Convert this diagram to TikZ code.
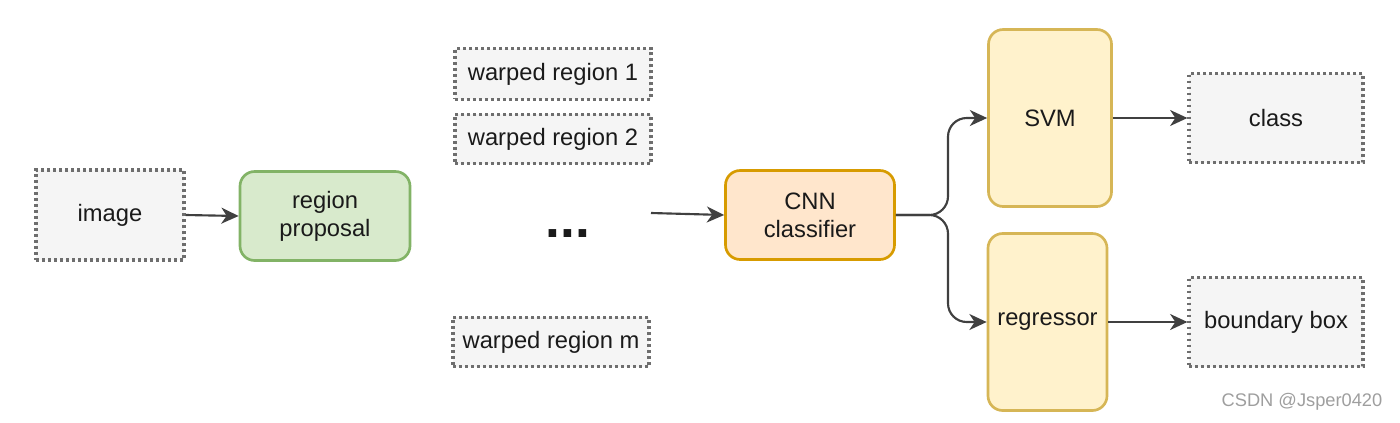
\documentclass[tikz,border=0pt]{standalone}
\usepackage{fontspec}
\setmainfont{Liberation Sans}
\usetikzlibrary{arrows.meta}
\definecolor{dotgray}{HTML}{6E6E6E}
\definecolor{dotfill}{HTML}{F5F5F5}
\definecolor{gfill}{HTML}{D8EACC}
\definecolor{gline}{HTML}{82B366}
\definecolor{ofill}{HTML}{FFE6CC}
\definecolor{oline}{HTML}{D79B00}
\definecolor{yfill}{HTML}{FFF2CC}
\definecolor{yline}{HTML}{D6B656}
\definecolor{txt}{HTML}{1A1A1A}
\definecolor{arrcol}{HTML}{404040}
\tikzset{
  base/.style={font=\fontsize{17.8}{21}\selectfont, text=txt, align=center, inner sep=0pt},
  dotbox/.style={base, draw=dotgray, fill=dotfill, line width=2.4pt, dash pattern=on 2.2pt off 2.3pt},
  roundbox/.style={base, rounded corners=11pt, line width=2pt},
  arr/.style={draw=arrcol, line width=1.6pt, -{Stealth[length=13pt,width=12pt,inset=4pt]}}
}
\begin{document}
\begin{tikzpicture}[x=0.75pt,y=-0.75pt]
\useasboundingbox (0,0) rectangle (1400,422);
\node[dotbox, minimum width=111pt, minimum height=67.5pt] (img) at (110,215) {image};
\node[roundbox, draw=gline, fill=gfill, minimum width=127.5pt, minimum height=66.75pt] (rp) at (325,216) {region\\proposal};
\node[dotbox, minimum width=147pt, minimum height=38pt] (w1) at (553,74) {warped region 1};
\node[dotbox, minimum width=147pt, minimum height=37pt] (w2) at (553,139) {warped region 2};
\node[base, font=\fontsize{40}{40}\selectfont\bfseries] (dots) at (568,234) {...};
\node[dotbox, minimum width=147pt, minimum height=37pt] (wm) at (551,342) {warped region m};
\coordinate (win) at (651,213);
\node[roundbox, draw=oline, fill=ofill, minimum width=126.75pt, minimum height=66.75pt] (cnn) at (810,215) {CNN\\classifier};
\node[roundbox, draw=yline, fill=yfill, minimum width=92.25pt, minimum height=132.75pt] (svm) at (1050,118) {SVM};
\node[roundbox, draw=yline, fill=yfill, minimum width=89.25pt, minimum height=132.75pt] (reg) at (1047.5,322) {regressor};
\node[dotbox, minimum width=130.5pt, minimum height=66.75pt] (cls) at (1276,118) {class};
\node[dotbox, minimum width=130.5pt, minimum height=66.75pt] (bb) at (1276,322) {boundary box};
\node[font=\fontsize{13.7}{16}\selectfont, text=black!38, inner sep=0pt] (wm2) at (1302,402) {CSDN @Jsper0420};
\coordinate (split) at (948,215);
\draw[arr] (img.east) -- (rp.west);
\draw[arr] (win) -- (cnn.west);
\draw[arr, rounded corners=14pt] (cnn.east) -- (split) |- (svm.west);
\draw[arr, rounded corners=14pt] (cnn.east) -- (split) |- (reg.west);
\draw[arr] (svm.east) -- (svm.east -| cls.west);
\draw[arr] (reg.east) -- (reg.east -| bb.west);
\end{tikzpicture}
\end{document}
